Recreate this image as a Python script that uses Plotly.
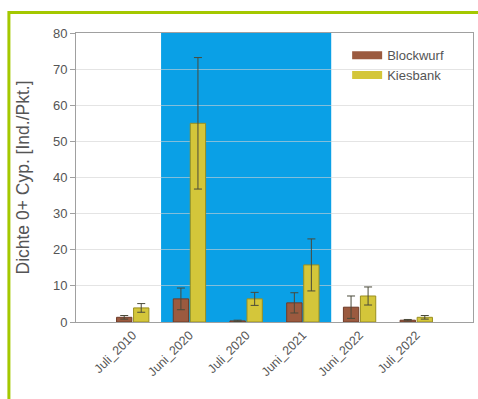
import plotly.graph_objects as go

# Sampling campaigns and mean densities of 0+ cyprinids per point
campaigns = ["Juli_2010", "Juni_2020", "Juli_2020", "Juni_2021", "Juni_2022", "Juli_2022"]
blockwurf = [1.3, 6.4, 0.3, 5.3, 4.1, 0.5]
blockwurf_err = [0.5, 3.0, 0.2, 2.8, 3.1, 0.2]
kiesbank = [3.9, 55.0, 6.4, 15.8, 7.2, 1.3]
kiesbank_err = [1.2, 18.2, 1.8, 7.2, 2.5, 0.5]

# 2020/2021 campaigns are highlighted by a blue band
highlight = ["Juni_2020", "Juni_2021"]

colors = {"Blockwurf": "#9b5a3f", "Kiesbank": "#d4c63a"}
outlines = {"Blockwurf": "#6e3b28", "Kiesbank": "#9a8f20"}

xpos = list(range(1, len(campaigns) + 1))

fig = go.Figure()
for name, vals, errs in [("Blockwurf", blockwurf, blockwurf_err),
                         ("Kiesbank", kiesbank, kiesbank_err)]:
    fig.add_trace(go.Bar(
        x=xpos, y=vals, name=name, showlegend=False,
        marker=dict(color=colors[name], line=dict(color=outlines[name], width=1)),
        error_y=dict(type="data", array=errs, visible=True,
                     color="#4a4a3a", thickness=1, width=4),
    ))
    # wide legend swatches
    fig.add_trace(go.Scatter(
        x=[None], y=[None], mode="lines", name=name,
        line=dict(color=colors[name], width=8),
    ))

i0 = campaigns.index(highlight[0]) + 1
i1 = campaigns.index(highlight[1]) + 1
fig.add_shape(type="rect", xref="x", yref="paper",
              x0=i0 - 0.5, x1=i1 + 0.5, y0=0, y1=1,
              fillcolor="#0aa0e6", line=dict(width=0), layer="below")

# green frame around the figure
fig.add_shape(type="rect", xref="paper", yref="paper",
              x0=-0.169, x1=1.2, y0=-0.5, y1=1.071,
              line=dict(color="#a4c800", width=3), fillcolor="rgba(0,0,0,0)")

fig.update_layout(
    width=478, height=399,
    margin=dict(l=76, r=5, t=33, b=77),
    paper_bgcolor="white", plot_bgcolor="white",
    barmode="group", bargap=0.4, bargroupgap=0.1,
    font=dict(family="Liberation Sans, Arial, sans-serif", color="#555555"),
    legend=dict(x=0.683, y=0.975, xanchor="left", yanchor="top",
                bgcolor="rgba(0,0,0,0)", font=dict(size=13, color="#555555"),
                itemwidth=30, tracegroupgap=0),
    xaxis=dict(
        range=[0, 7], tickmode="array", tickvals=xpos, ticktext=campaigns,
        tickangle=-45, tickfont=dict(size=12.5, color="#555555"),
        showline=True, linecolor="#a0a0a0", linewidth=1, mirror=True,
        showgrid=False, ticks="",
    ),
    yaxis=dict(
        range=[0, 80], dtick=10,
        title=dict(text="Dichte 0+ Cyp. [Ind./Pkt.]", font=dict(size=17.5, color="#555555"),
                   standoff=18),
        tickfont=dict(size=13, color="#555555"),
        showline=True, linecolor="#a0a0a0", linewidth=1, mirror=True,
        showgrid=True, gridcolor="rgba(210,210,210,0.6)", gridwidth=1,
        ticks="outside", ticklen=5, tickcolor="#a0a0a0", zeroline=False,
    ),
)

fig.write_html("out.html")
